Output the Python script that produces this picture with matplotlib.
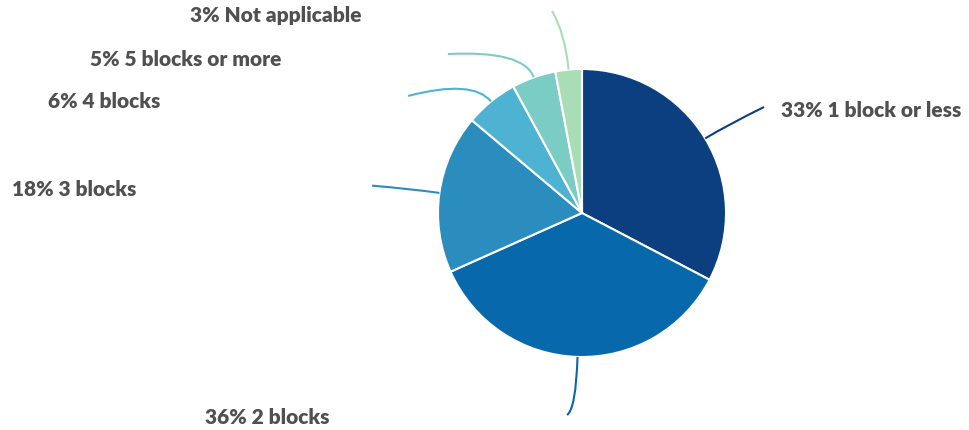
import numpy as np
import matplotlib
matplotlib.use("Agg")
import matplotlib.pyplot as plt
from matplotlib.path import Path
from matplotlib.patches import PathPatch

# answer shares (percent), clockwise from 12 o'clock
categories = ["1 block or less", "2 blocks", "3 blocks", "4 blocks", "5 blocks or more", "Not applicable"]
shares = [33, 36, 18, 6, 5, 3]
colors = ["#0b3f80", "#0868ac", "#2b8cbe", "#4eb3d3", "#7bccc4", "#a8ddb5"]

# where each leader line ends and where its label sits (in pie radii)
line_ends = [(1.264, 0.736), (-0.104, -1.403), (-1.458, 0.19), (-1.208, 0.813), (-0.931, 1.104), (-0.208, 1.403)]
label_pos = [(1.382, 0.722), (-2.618, -1.41), (-3.958, 0.167), (-3.708, 0.778), (-3.417, 1.076), (-2.722, 1.375)]
bend = [1.18, 1.36, 1.2, 1.2, 1.2, 1.25]

fig = plt.figure(figsize=(9.7, 4.31), dpi=100)
ax = fig.add_axes([0, 0, 1, 1])

wedges, _ = ax.pie(shares, colors=colors, startangle=90, counterclock=False, radius=1,
                   wedgeprops=dict(edgecolor="white", linewidth=1.5))

for w, cat, s, c, end, lp, b in zip(wedges, categories, shares, colors, line_ends, label_pos, bend):
    mid = np.deg2rad((w.theta1 + w.theta2) / 2)
    start = (np.cos(mid), np.sin(mid))
    ctrl = (b * np.cos(mid), b * np.sin(mid))
    path = Path([start, ctrl, end], [Path.MOVETO, Path.CURVE3, Path.CURVE3])
    ax.add_patch(PathPatch(path, facecolor="none", edgecolor=c, linewidth=1.5))
    ax.text(lp[0], lp[1], f"{s}% {cat}", ha="left", va="center", fontsize=15,
            fontweight="heavy", family="Lato", color="#505050")

# pie centre sits at (582, 214) px from the top-left, radius 144 px
ax.set_xlim(-582 / 144, 388 / 144)
ax.set_ylim(-217 / 144, 214 / 144)
ax.set_aspect("equal")
ax.axis("off")

fig.savefig("out.png", dpi=100)
